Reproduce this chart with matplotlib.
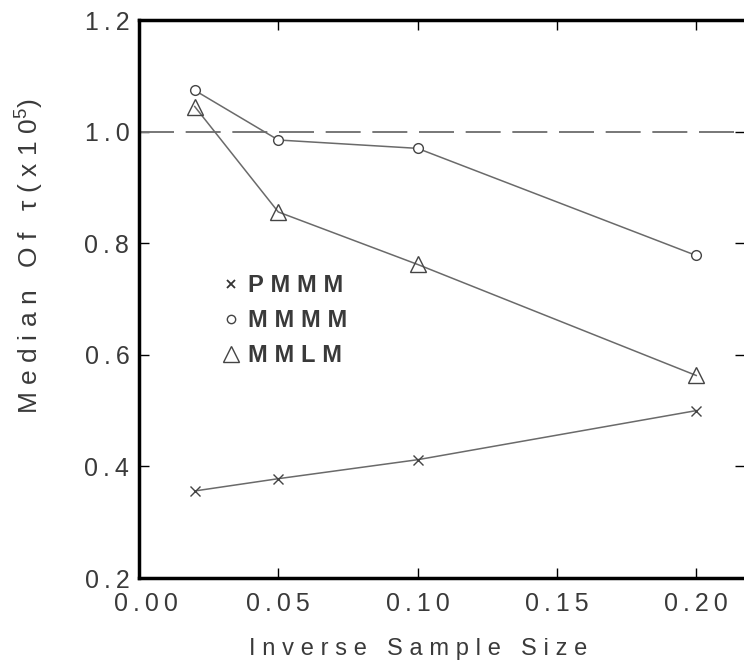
import matplotlib
matplotlib.use('Agg')
import matplotlib.pyplot as plt
import matplotlib.transforms as mtransforms
from matplotlib.lines import Line2D

# inverse sample size values
x = [0.02, 0.05, 0.10, 0.20]

pmmm = [0.356, 0.378, 0.412, 0.500]
mmmm = [1.074, 0.985, 0.970, 0.778]
mmlm = [1.045, 0.856, 0.762, 0.563]

series_names = ['PMMM', 'MMMM', 'MMLM']

xticks = [0.00, 0.05, 0.10, 0.15, 0.20]
xticklabels = ['0.00', '0.05', '0.10', '0.15', '0.20']
yticks = [0.2, 0.4, 0.6, 0.8, 1.0, 1.2]
yticklabels = ['0.2', '0.4', '0.6', '0.8', '1.0', '1.2']

THIN = '\u2009'
WIDE = '\u2009\u200a'


def spaced(s, sep=THIN):
    # the original lettering is widely tracked; fake it with narrow spaces
    words = [sep.join(w) for w in s.split(' ')]
    return (sep + ' ' + sep).join(words)


plt.rcParams['font.family'] = ['Liberation Sans', 'DejaVu Sans']
plt.rcParams['mathtext.fontset'] = 'custom'
plt.rcParams['mathtext.rm'] = 'Liberation Sans'

fig = plt.figure(figsize=(7.44, 6.7), dpi=100)
ax = fig.add_axes([0.1868, 0.1373, 0.8145, 0.8328])

txt_col = '#3a3a3a'
line_col = '#6a6a6a'
mk_col = '#444444'

ax.axhline(1.0, color='#777777', lw=1.4, dashes=(18, 6))

ax.plot(x, pmmm, color=line_col, lw=1.1, marker='x', ms=7, mec=mk_col, mew=1.0)
ax.plot(x, mmmm, color=line_col, lw=1.1, marker='o', ms=7, mfc='white', mec=mk_col, mew=1.0)
ax.plot(x, mmlm, color=line_col, lw=1.1, marker='^', ms=11, mfc='none', mec=mk_col, mew=1.0)

handles = [
    Line2D([], [], ls='none', marker='x', ms=6, mec='#333333', mew=1.3),
    Line2D([], [], ls='none', marker='o', ms=6, mfc='none', mec='#444444', mew=1.0),
    Line2D([], [], ls='none', marker='^', ms=11, mfc='none', mec='#444444', mew=1.0),
]
ax.legend(handles, [spaced(n, WIDE) for n in series_names], frameon=False, loc='upper left',
          bbox_to_anchor=(0.124, 0.561), handlelength=0.6, handletextpad=0.45,
          labelspacing=0.5, borderaxespad=0, prop={'size': 17, 'weight': 'bold'},
          labelcolor=txt_col)

ax.set_xlim(0, 0.2175)
ax.set_ylim(0.2, 1.2)
ax.set_xticks(xticks)
ax.set_xticklabels([spaced(t) for t in xticklabels])
ax.set_yticks(yticks)
ax.set_yticklabels([spaced(t) for t in yticklabels])

ax.tick_params(direction='in', length=7, width=1.0, top=True, right=True,
               labelsize=18, labelcolor=txt_col)
ax.tick_params(axis='x', pad=10)
ax.tick_params(axis='y', pad=7)
for s in ['left', 'bottom', 'top']:
    ax.spines[s].set_linewidth(2.5)
ax.spines['right'].set_linewidth(1.0)

# first x label sits a little to the right of the corner
lbl = ax.get_xticklabels()[0]
lbl.set_transform(lbl.get_transform() + mtransforms.ScaledTranslation(7 / 100, 0, fig.dpi_scale_trans))

ax.set_xlabel(spaced('Inverse Sample Size', WIDE), fontsize=17, color=txt_col)
ax.xaxis.set_label_coords(0.46, -0.108)
ylab = spaced('Median Of τ(x10', WIDE) + '$^5$' + ')'
ax.set_ylabel(ylab, fontsize=19, color=txt_col)
ax.yaxis.set_label_coords(-0.155, 0.577)

fig.savefig('out.png', dpi=100, facecolor='white')
